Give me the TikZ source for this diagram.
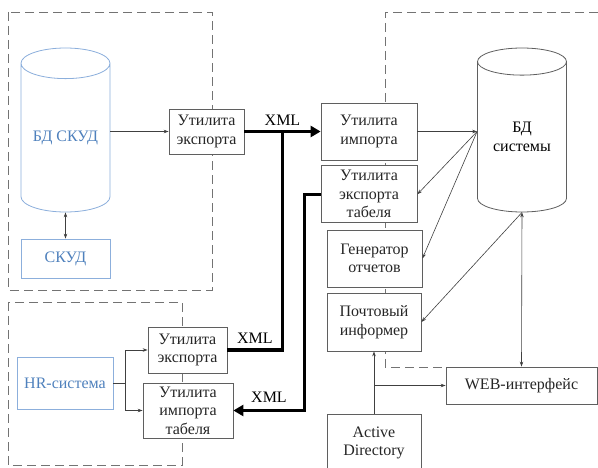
\documentclass[tikz,border=0pt]{standalone}
\usepackage{fontspec}
\setmainfont{Liberation Serif}
\usetikzlibrary{positioning, calc, shapes.geometric, arrows.meta}

\definecolor{skudblue}{RGB}{79,129,189}
\definecolor{skudline}{RGB}{140,175,220}
\definecolor{boxgray}{RGB}{95,95,95}
\definecolor{zonegray}{RGB}{115,115,115}

\tikzset{
  box/.style={draw=boxgray, line width=0.8pt, fill=white, align=center, inner sep=1pt, text=black!85},
  bluebox/.style={box, draw=skudline, text=skudblue},
  dbase/.style={cylinder, shape border rotate=90, aspect=0.47, draw=boxgray, fill=white, line width=0.8pt, align=center, inner sep=0pt, minimum width=89pt, minimum height=164pt, anchor=shape center},
  link/.style={->, line width=0.6pt, draw=black!75},
  dual/.style={<->, line width=0.6pt, draw=black!75},
  xml/.style={line width=3.5pt, draw=black},
  zone/.style={draw=zonegray, line width=0.8pt, dash pattern=on 9pt off 5pt},
}

\begin{document}
\begin{tikzpicture}[x=1pt, y=-1pt, font=\fontsize{16}{18.5}\selectfont, >={Stealth[length=5pt, width=3.5pt]}]
  \useasboundingbox (0,0) rectangle (598,468);

  % dashed areas
  \draw[zone] (8,12) rectangle (212,290);
  \draw[zone] (8,302) rectangle (182,465);
  \draw[zone] (598,12) -- (385,12) -- (385,367) -- (446,367);

  % access control side
  \node[dbase, draw=skudline, text=skudblue] (dbskud) at (65.5,130) {БД СКУД};
  \node[bluebox, minimum width=89pt, minimum height=39pt] (skud) at (65.5,258.5) {СКУД};
  \node[box, minimum width=75pt, minimum height=45pt] (exp1) at (206.5,131.5) {Утилита\\экспорта};

  % HR side
  \node[bluebox, minimum width=96pt, minimum height=52pt] (hr) at (65,383) {HR-система};
  \node[box, minimum width=79pt, minimum height=46pt] (exp2) at (187.5,350) {Утилита\\экспорта};
  \node[box, minimum width=90pt, minimum height=55pt] (imptab) at (188,410.5) {Утилита\\импорта\\табеля};

  % system side
  \node[box, minimum width=96pt, minimum height=57pt] (imp) at (369,131.5) {Утилита\\импорта};
  \node[box, minimum width=96pt, minimum height=57pt, below=5pt of imp] (exptab) {Утилита\\экспорта\\табеля};
  \node[box, minimum width=95pt, minimum height=57pt] (report) at (374.5,258.5) {Генератор\\отчетов};
  \node[box, minimum width=94pt, minimum height=58pt] (mail) at (374,322) {Почтовый\\информер};
  \node[dbase] (dbsys) at (522,130) {БД\\системы};
  \node[box, minimum width=151pt, minimum height=37pt] (web) at (521.5,385.5) {WEB-интерфейс};
  \node[box, minimum width=94pt, minimum height=58pt] (ad) at (374,443) {Active\\Directory};

  \coordinate (xmlj) at ($(exp1.east)!0.5!(imp.west)$);
  \coordinate (dbin) at (imp.east -| dbsys.west);

  \draw[dual] (dbskud.south) -- (skud.north);
  \draw[link] (exp1.west -| dbskud.east) -- (exp1.west);
  \draw[xml, -{Triangle[length=10pt, width=11pt]}] (exp1) -- (imp) node[midway, above, yshift=1pt] {XML};
  \draw[xml] (exp2.east) -| (xmlj) node[pos=0.25, above, yshift=1pt] {XML};
  \draw[xml, -{Triangle[length=10pt, width=11pt]}] (exptab.west) -- ++(-16,0) |- (imptab.east) node[pos=0.75, above, yshift=3pt] {XML};
  \draw[link] (hr.east) -- ++(12,0) |- (exp2.west);
  \draw[link] (hr.east) -- ++(12,0) |- (imptab.west);

  \draw[link] (imp.east) -- (dbin);
  \draw[link] (dbin) -- (exptab.east);
  \draw[link] (dbin) -- (report.east);
  \draw[link] (dbsys.south) -- (mail.east);
  \draw[dual] (dbsys.south) -- (web.north);
  \draw[link] (ad.north) -- (mail.south);
  \draw[link] (ad.north |- web.west) -- (web.west);

\end{tikzpicture}
\end{document}
